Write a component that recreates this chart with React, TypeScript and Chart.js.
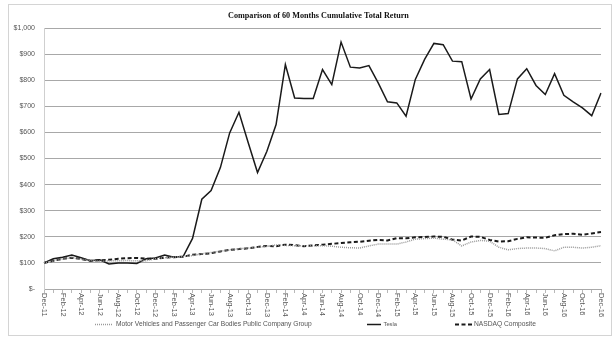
import React, { useEffect, useRef } from 'react';
import { Chart, registerables } from 'chart.js';

Chart.register(...registerables);

const months = [
  'Dec-11', 'Jan-12', 'Feb-12', 'Mar-12', 'Apr-12', 'May-12', 'Jun-12', 'Jul-12', 'Aug-12', 'Sep-12', 'Oct-12', 'Nov-12',
  'Dec-12', 'Jan-13', 'Feb-13', 'Mar-13', 'Apr-13', 'May-13', 'Jun-13', 'Jul-13', 'Aug-13', 'Sep-13', 'Oct-13', 'Nov-13',
  'Dec-13', 'Jan-14', 'Feb-14', 'Mar-14', 'Apr-14', 'May-14', 'Jun-14', 'Jul-14', 'Aug-14', 'Sep-14', 'Oct-14', 'Nov-14',
  'Dec-14', 'Jan-15', 'Feb-15', 'Mar-15', 'Apr-15', 'May-15', 'Jun-15', 'Jul-15', 'Aug-15', 'Sep-15', 'Oct-15', 'Nov-15',
  'Dec-15', 'Jan-16', 'Feb-16', 'Mar-16', 'Apr-16', 'May-16', 'Jun-16', 'Jul-16', 'Aug-16', 'Sep-16', 'Oct-16', 'Nov-16',
  'Dec-16',
];

const motorVehicles = [
  100, 108, 115, 120, 114, 110, 106, 108, 108, 109,
  108, 108, 116, 120, 122, 124, 128, 135, 140, 145,
  150, 154, 157, 160, 163, 169, 167, 166, 166, 166,
  166, 164, 160, 158, 157, 165, 172, 172, 172, 180,
  191, 193, 195, 191, 188, 165, 180, 186, 183, 160,
  150, 155, 157, 157, 155, 146, 160, 160, 157, 160,
  166,
];

const tesla = [
  100, 116, 122, 130, 120, 108, 112, 96, 100, 100,
  98, 116, 119, 130, 122, 125, 194, 344, 377, 465,
  598, 677, 560, 446, 527, 630, 860, 732, 730, 730,
  841, 783, 946, 850, 847, 856, 790, 717, 713, 662,
  803, 880, 941, 936, 873, 871, 728, 805, 841, 669,
  672, 805, 844, 780, 745, 825, 742, 717, 694, 664,
  751,
];

const nasdaq = [
  100, 108, 116, 120, 115, 108, 110, 112, 116, 118,
  119, 116, 116, 120, 122, 124, 131, 134, 137, 144,
  150, 153, 156, 161, 165, 164, 170, 168, 164, 167,
  170, 173, 176, 179, 181, 185, 188, 186, 195, 194,
  198, 199, 201, 200, 189, 186, 201, 200, 188, 182,
  183, 192, 198, 197, 196, 206, 210, 212, 208, 213,
  218,
];

const titleText = 'Comparison of 60 Months Cumulative Total Return';
const legendLabels = ['Motor Vehicles and Passenger Car Bodies Public Company Group', 'Tesla', 'NASDAQ Composite'];

function fitFont(ctx: CanvasRenderingContext2D, text: string, target: number, family: string, weight: string) {
  ctx.font = `${weight} 10px ${family}`;
  const w = ctx.measureText(text).width;
  const size = (10 * target) / w;
  ctx.font = `${weight} ${size.toFixed(2)}px ${family}`;
}

const decorPlugin = {
  id: 'decor',
  beforeDraw(chart: any) {
    const ctx = chart.ctx;
    ctx.save();
    ctx.fillStyle = '#ffffff';
    ctx.fillRect(0, 0, chart.width, chart.height);
    ctx.strokeStyle = '#d4d4d4';
    ctx.lineWidth = 1;
    ctx.strokeRect(8.5, 4.5, 603, 331);
    ctx.restore();
  },
  afterDraw(chart: any) {
    const ctx = chart.ctx;
    const xs = chart.scales.x;
    ctx.save();
    // title
    fitFont(ctx, titleText, 181, '"Liberation Serif", "Times New Roman", serif', 'bold');
    ctx.fillStyle = '#111111';
    ctx.textAlign = 'left';
    ctx.textBaseline = 'middle';
    ctx.fillText(titleText, 228, 15.5);

    // x labels, rotated clockwise
    ctx.font = '7.5px "Liberation Sans", Arial, sans-serif';
    ctx.fillStyle = '#555555';
    for (let i = 0; i < months.length; i += 2) {
      const x = xs.getPixelForValue(i);
      ctx.save();
      ctx.translate(x, 293);
      ctx.rotate(Math.PI / 2);
      ctx.textAlign = 'left';
      ctx.textBaseline = 'middle';
      ctx.fillText(months[i], 0, 0);
      ctx.restore();
    }

    // legend
    const ly = 324.5;
    const items = [
      { x0: 95, x1: 113, tx: 116, tw: 196, color: '#9a9a9a', dash: [1, 1], width: 1.5 },
      { x0: 367, x1: 381, tx: 383.5, tw: 13.5, color: '#1a1a1a', dash: [], width: 1.5 },
      { x0: 455, x1: 472, tx: 474, tw: 62, color: '#1a1a1a', dash: [4, 2.5], width: 2 },
    ];
    items.forEach((it, k) => {
      ctx.save();
      ctx.strokeStyle = it.color;
      ctx.lineWidth = it.width;
      ctx.setLineDash(it.dash);
      ctx.beginPath();
      ctx.moveTo(it.x0, ly);
      ctx.lineTo(it.x1, ly);
      ctx.stroke();
      ctx.restore();
      fitFont(ctx, legendLabels[k], it.tw, '"Liberation Sans", Arial, sans-serif', 'normal');
      ctx.fillStyle = '#555555';
      ctx.textAlign = 'left';
      ctx.textBaseline = 'middle';
      ctx.fillText(legendLabels[k], it.tx, ly);
    });
    ctx.restore();
  },
};

export default function App() {
  const ref = useRef<HTMLCanvasElement | null>(null);
  useEffect(() => {
    if (!ref.current) return;
    const chart = new Chart(ref.current, {
      type: 'line',
      data: {
        labels: months,
        datasets: [
          {
            label: legendLabels[0],
            data: motorVehicles,
            borderColor: '#9a9a9a',
            borderWidth: 1.5,
            borderDash: [1, 1],
            pointRadius: 0,
            tension: 0,
            fill: false,
          },
          {
            label: legendLabels[1],
            data: tesla,
            borderColor: '#1a1a1a',
            borderWidth: 1.5,
            pointRadius: 0,
            tension: 0,
            fill: false,
          },
          {
            label: legendLabels[2],
            data: nasdaq,
            borderColor: '#1a1a1a',
            borderWidth: 2,
            borderDash: [4, 2.5],
            pointRadius: 0,
            tension: 0,
            fill: false,
          },
        ],
      },
      options: {
        responsive: false,
        animation: false,
        devicePixelRatio: 1,
        layout: { padding: { top: 28, right: 15, left: 0, bottom: 0 } },
        plugins: {
          legend: { display: false },
          title: { display: false },
          tooltip: { enabled: false },
        },
        scales: {
          x: {
            type: 'category',
            offset: false,
            grid: {
              display: true,
              drawOnChartArea: false,
              drawTicks: true,
              tickLength: 4,
              color: '#b8b8b8',
            },
            border: { display: true, color: '#a8a8a8' },
            ticks: { display: false, autoSkip: false },
            afterFit: (s: any) => {
              s.height = 52;
            },
          },
          y: {
            min: 0,
            max: 1000,
            grid: { color: '#a8a8a8', lineWidth: 1, drawTicks: false },
            border: { display: true, color: '#cfcfcf' },
            ticks: {
              stepSize: 100,
              padding: 9,
              color: '#555555',
              font: { family: '"Liberation Sans", Arial, sans-serif', size: 7 },
              callback: (v: any) => (v === 0 ? '$-' : '$' + Number(v).toLocaleString('en-US')),
            },
            afterFit: (s: any) => {
              s.width = 44;
            },
          },
        },
      },
      plugins: [decorPlugin],
    });
    return () => chart.destroy();
  }, []);
  return (
    <div style={{ position: 'fixed', left: 0, top: 0, width: 616, height: 341, background: '#fff' }}>
      <canvas ref={ref} width={616} height={341} style={{ width: 616, height: 341, display: 'block' }} />
    </div>
  );
}
